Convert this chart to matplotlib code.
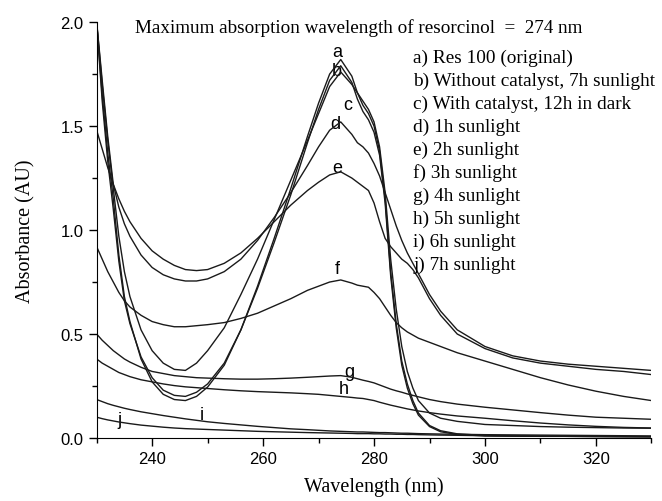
import numpy as np
import matplotlib.pyplot as plt

wl = [230, 231, 232, 233, 234, 235, 236, 238, 240, 242, 244, 246, 248, 250, 253, 256,
      259, 262, 265, 268, 270, 272, 274, 276, 277, 278, 279, 280, 281, 282, 283, 284,
      285, 286, 287, 288, 290, 292, 295, 300, 305, 310, 315, 320, 325, 330]

# absorbance
abs_a = [2.0, 1.65, 1.37, 1.15, 0.88, 0.68, 0.56, 0.38, 0.27, 0.21, 0.185, 0.18, 0.20, 0.245, 0.35, 0.52,
         0.73, 0.96, 1.20, 1.45, 1.61, 1.75, 1.82, 1.74, 1.66, 1.60, 1.56, 1.50, 1.38, 1.15,
         0.80, 0.55, 0.37, 0.26, 0.18, 0.12, 0.06, 0.035, 0.02, 0.012, 0.01, 0.009, 0.008, 0.008, 0.007, 0.007]
abs_b = [2.0, 1.62, 1.33, 1.10, 0.85, 0.66, 0.55, 0.39, 0.29, 0.23, 0.205, 0.20, 0.22, 0.26, 0.36, 0.52,
         0.72, 0.94, 1.17, 1.42, 1.58, 1.72, 1.79, 1.71, 1.63, 1.57, 1.53, 1.47, 1.36, 1.13,
         0.78, 0.53, 0.35, 0.24, 0.165, 0.11, 0.055, 0.03, 0.017, 0.01, 0.009, 0.008, 0.008, 0.007, 0.007, 0.006]
abs_c = [2.0, 1.70, 1.43, 1.20, 0.97, 0.80, 0.68, 0.52, 0.42, 0.36, 0.33, 0.325, 0.36, 0.42, 0.53, 0.69,
         0.86, 1.05, 1.24, 1.43, 1.56, 1.69, 1.76, 1.70, 1.66, 1.62, 1.58, 1.52, 1.40, 1.18,
         0.86, 0.62, 0.44, 0.32, 0.24, 0.18, 0.12, 0.095, 0.08, 0.065, 0.06, 0.055, 0.052, 0.05, 0.048, 0.047]
abs_d = [2.0, 1.72, 1.45, 1.22, 1.11, 1.03, 0.97, 0.88, 0.82, 0.785, 0.765, 0.755, 0.755, 0.765, 0.80, 0.86,
         0.95, 1.06, 1.18, 1.31, 1.40, 1.48, 1.52, 1.46, 1.42, 1.40, 1.37, 1.32, 1.26, 1.18,
         1.10, 1.02, 0.95, 0.89, 0.84, 0.79, 0.69, 0.61, 0.52, 0.44, 0.395, 0.37, 0.355, 0.345, 0.335, 0.325]
abs_e = [1.48, 1.39, 1.30, 1.22, 1.15, 1.09, 1.04, 0.96, 0.90, 0.86, 0.83, 0.81, 0.805, 0.81, 0.84, 0.89,
         0.96, 1.04, 1.12, 1.19, 1.23, 1.265, 1.28, 1.25, 1.23, 1.21, 1.19, 1.13, 1.04, 0.96,
         0.92, 0.89, 0.86, 0.84, 0.81, 0.77, 0.67, 0.59, 0.50, 0.43, 0.385, 0.36, 0.345, 0.33, 0.32, 0.305]
abs_f = [0.92, 0.86, 0.80, 0.75, 0.70, 0.66, 0.63, 0.59, 0.56, 0.545, 0.535, 0.535, 0.54, 0.545, 0.555, 0.575,
         0.60, 0.635, 0.67, 0.71, 0.73, 0.75, 0.76, 0.745, 0.735, 0.73, 0.725, 0.70, 0.67, 0.63,
         0.59, 0.555, 0.53, 0.51, 0.495, 0.48, 0.46, 0.44, 0.41, 0.37, 0.33, 0.29, 0.255, 0.225, 0.20, 0.18]
abs_g = [0.50, 0.47, 0.445, 0.42, 0.40, 0.38, 0.365, 0.34, 0.32, 0.31, 0.30, 0.295, 0.29, 0.288, 0.285, 0.283,
         0.283, 0.285, 0.288, 0.292, 0.295, 0.298, 0.30, 0.292, 0.285, 0.278, 0.272, 0.265, 0.255, 0.245,
         0.235, 0.227, 0.22, 0.212, 0.205, 0.198, 0.185, 0.175, 0.163, 0.148, 0.135, 0.122, 0.11, 0.10, 0.095, 0.09]
abs_h = [0.38, 0.36, 0.345, 0.33, 0.315, 0.305, 0.295, 0.28, 0.27, 0.26, 0.252, 0.246, 0.242, 0.238, 0.232, 0.227,
         0.223, 0.22, 0.217, 0.213, 0.21, 0.205, 0.20, 0.195, 0.192, 0.19, 0.185, 0.18, 0.172, 0.165,
         0.158, 0.152, 0.146, 0.14, 0.135, 0.13, 0.122, 0.115, 0.106, 0.095, 0.083, 0.072, 0.063, 0.056, 0.051, 0.048]
abs_i = [0.185, 0.175, 0.165, 0.157, 0.15, 0.143, 0.137, 0.126, 0.117, 0.108, 0.10, 0.092, 0.085, 0.078, 0.07, 0.063,
         0.056, 0.05, 0.044, 0.04, 0.037, 0.034, 0.032, 0.03, 0.029, 0.029, 0.028, 0.027, 0.026, 0.026,
         0.025, 0.024, 0.023, 0.023, 0.022, 0.021, 0.02, 0.019, 0.018, 0.016, 0.015, 0.014, 0.013, 0.012, 0.011, 0.01]
abs_j = [0.10, 0.093, 0.087, 0.082, 0.077, 0.073, 0.069, 0.062, 0.057, 0.052, 0.048, 0.045, 0.043, 0.041, 0.038, 0.035,
         0.032, 0.03, 0.028, 0.026, 0.025, 0.024, 0.023, 0.022, 0.021, 0.021, 0.021, 0.02, 0.02, 0.019,
         0.019, 0.018, 0.018, 0.017, 0.017, 0.016, 0.015, 0.014, 0.013, 0.011, 0.01, 0.009, 0.008, 0.007, 0.006, 0.005]

curves = [abs_a, abs_b, abs_c, abs_d, abs_e, abs_f, abs_g, abs_h, abs_i, abs_j]

legend_lines = ["a) Res 100 (original)", "b) Without catalyst, 7h sunlight",
                "c) With catalyst, 12h in dark", "d) 1h sunlight", "e) 2h sunlight",
                "f) 3h sunlight", "g) 4h sunlight", "h) 5h sunlight", "i) 6h sunlight",
                "j) 7h sunlight"]

# curve letters and where they sit
lab_txt = ["a", "b", "c", "d", "e", "f", "g", "h", "i", "j"]
lab_x = [273.3, 273.3, 275.3, 273.1, 273.3, 273.3, 275.5, 274.6, 249.0, 234.2]
lab_y = [1.86, 1.765, 1.606, 1.51, 1.30, 0.813, 0.322, 0.236, 0.115, 0.091]

sans = "Liberation Sans"
serif = "Liberation Serif"

fig = plt.figure(figsize=(6.62, 5.02), dpi=100)
ax = fig.add_axes([0.146, 0.1255, 0.838, 0.8285])

for y in curves:
    ax.plot(wl, y, color="#1a1a1a", lw=1.0)

for t, x, y in zip(lab_txt, lab_x, lab_y):
    ax.text(x, y, t, fontsize=13, family=sans, ha="center", va="center", zorder=1)

ax.set_xlim(230, 330)
ax.set_ylim(0, 2.0)
ax.set_xticks([240, 260, 280, 300, 320])
ax.set_xticks(np.arange(230, 331, 10), minor=True)
ax.set_yticks([0, 0.5, 1.0, 1.5, 2.0])
ax.set_yticklabels(["0.0", "0.5", "1.0", "1.5", "2.0"])
ax.set_yticks(np.arange(0, 2.01, 0.25), minor=True)
for s in ["top", "right"]:
    ax.spines[s].set_visible(False)
ax.tick_params(which="major", direction="out", length=6, width=1, labelsize=12)
ax.tick_params(which="minor", direction="out", length=3.5, width=1)
for lab in ax.get_xticklabels() + ax.get_yticklabels():
    lab.set_family(sans)

ax.set_xlabel("Wavelength (nm)", family=serif, fontsize=14.5, labelpad=7)
ax.set_ylabel("Absorbance (AU)", family=serif, fontsize=14.5, labelpad=18)

fig.text(0.204, 0.944, "Maximum absorption wavelength of resorcinol  =  274 nm",
         family=serif, fontsize=13.8, va="center")
for k, s in enumerate(legend_lines):
    fig.text(0.624, 1 - (58 + 23 * k) / 502, s, family=serif, fontsize=13.9, va="center")

fig.savefig("out.png", dpi=100)
